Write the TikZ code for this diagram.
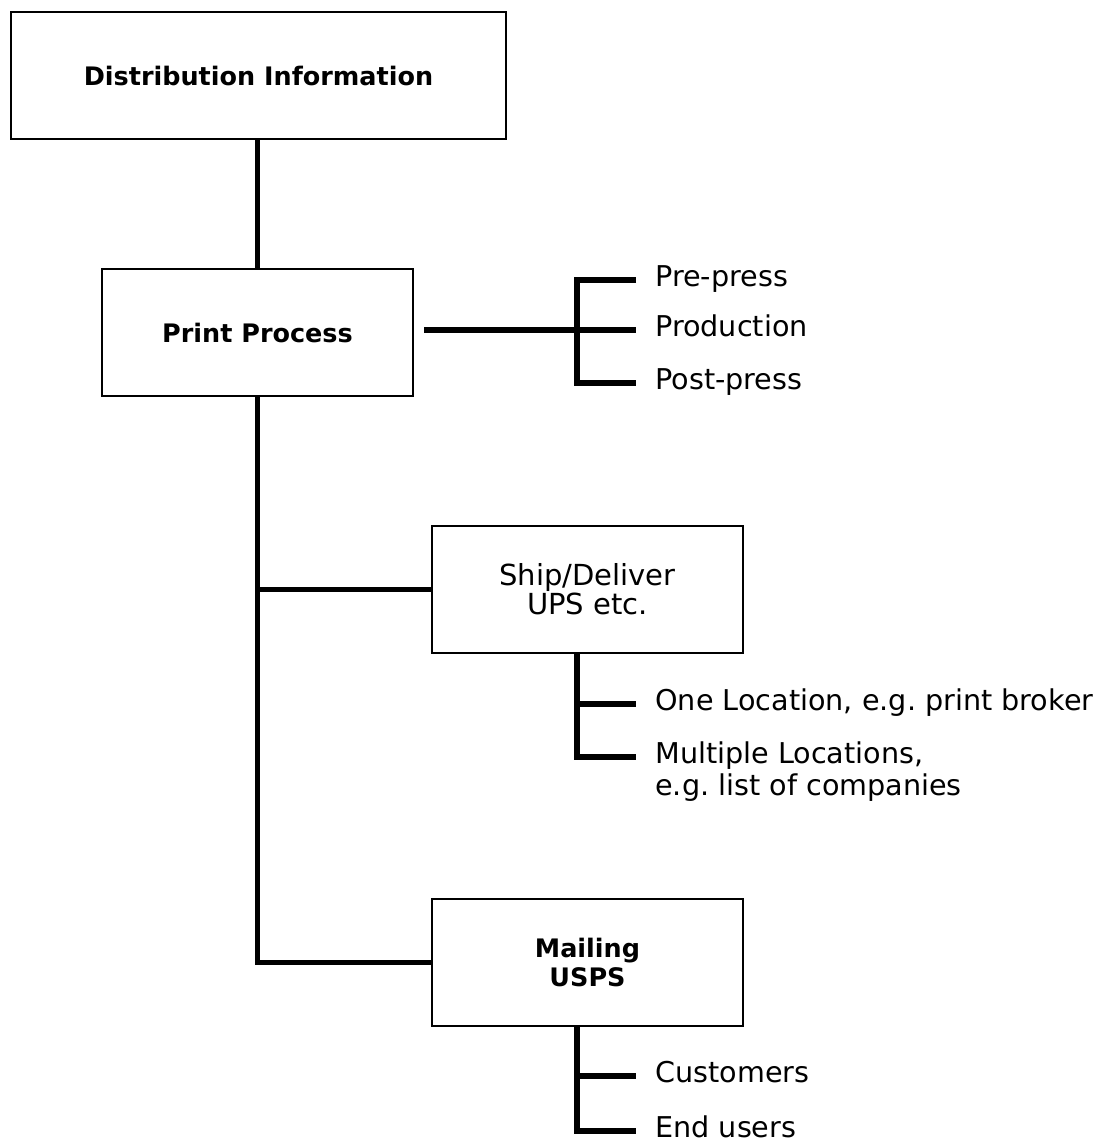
\documentclass[tikz,border=0pt]{standalone}
\usepackage{fontspec}
\setmainfont{DejaVu Sans}
\usetikzlibrary{positioning}
\frenchspacing

\begin{document}
\begin{tikzpicture}[
    x=0.02cm, y=-0.02cm,
    % --- Styles ---
    box node/.style={draw, line width=1.5pt, minimum width=6.22cm, minimum height=2.54cm, align=center, inner sep=0pt},
    % Bold titles inside the boxes
    title font/.style={font=\fontsize{14.5}{16.5}\selectfont\bfseries},
    plain font/.style={font=\fontsize{16.5}{16.5}\selectfont},
    % Leaves sit right of the brackets
    leaf node/.style={anchor=west, inner sep=0pt, font=\fontsize{16.3}{18}\selectfont, text height=1.6ex, text depth=0.25ex},
    connector line/.style={line width=3pt},
    tick line/.style={connector line, shorten >=0.38cm}
]

\useasboundingbox (0,0) rectangle (1117,1144);

% --- Boxes ---
\node[box node, title font, minimum width=9.9cm] (dist) at (258.5,75.5) {Distribution Information};
\node[box node, title font] (print) at (257.5,332.5) {Print Process};
\node[box node, plain font] (ship) at (587.5,589.5) {Ship/Deliver\\UPS etc.};
\node[box node, title font] (mail) at (587.5,962.5) {Mailing\\USPS};

% --- Leaves ---
\foreach \name/\ypos/\txt in {pre/280/Pre-press, prod/330/Production, post/383/Post-press}
    \node[leaf node] (\name) at (655,\ypos) {\txt};

\node[leaf node] (one) at (655,704) {One Location, e.g. print broker};
\node[leaf node] (multi) at (655,757) {Multiple Locations,};
\node[leaf node] (multib) at (655,789) {e.g. list of companies};
\node[leaf node] (cust) at (655,1076) {Customers};
\node[leaf node] (endu) at (655,1131) {End users};

% --- Trunk ---
\draw[connector line] (print.north |- dist.south) -- (print.north);
\draw[connector line] (print.south) |- (mail.west);
\draw[connector line] (print.south |- ship.west) -- (ship.west);

% --- Brackets ---
\coordinate (pbr) at (577,330);
\draw[connector line] ([xshift=0.2cm]pbr -| print.east) -- (pbr);
\draw[connector line] ([xshift=-0.38cm]pre.west) -| (pbr) |- ([xshift=-0.38cm]post.west);
\draw[tick line] (pbr) -- (prod.west);

\draw[connector line] (ship.south -| pbr) |- ([xshift=-0.38cm]multi.west);
\draw[tick line] (pbr |- one.west) -- (one.west);

\draw[connector line] (mail.south -| pbr) |- ([xshift=-0.38cm]endu.west);
\draw[tick line] (pbr |- cust.west) -- (cust.west);

\end{tikzpicture}
\end{document}
